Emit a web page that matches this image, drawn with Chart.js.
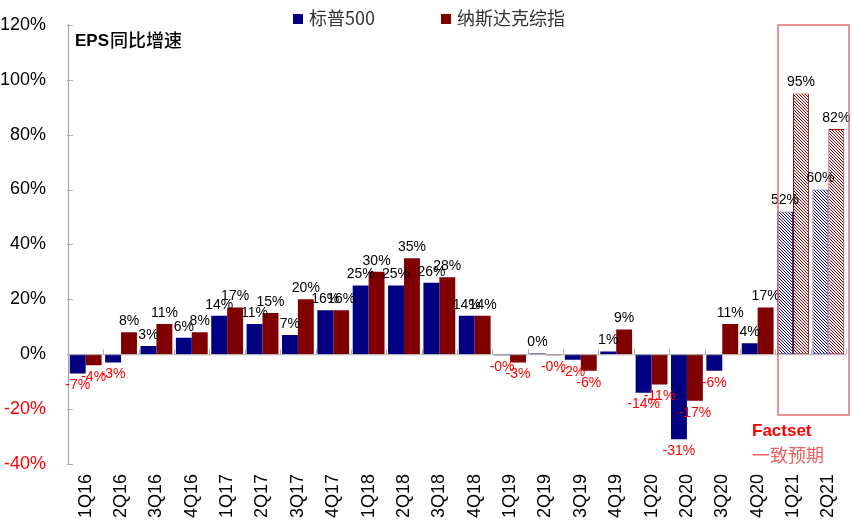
<!DOCTYPE html>
<html>
<head>
<meta charset="utf-8">
<script src="https://cdn.jsdelivr.net/npm/chart.js@4"></script>
<style>
  html, body { margin: 0; padding: 0; background: #fff; }
  #wrap { width: 852px; height: 524px; position: relative; }
</style>
</head>
<body>
<div id="wrap"><canvas id="epsChart" width="852" height="524"></canvas></div>
<script>
const quarters = ['1Q16', '2Q16', '3Q16', '4Q16', '1Q17', '2Q17', '3Q17', '4Q17', '1Q18', '2Q18', '3Q18',
    '4Q18', '1Q19', '2Q19', '3Q19', '4Q19', '1Q20', '2Q20', '3Q20', '4Q20', '1Q21', '2Q21'];
const sp500 = [-7, -3, 3, 6, 14, 11, 7, 16, 25, 25, 26, 14, -0.4, 0.3, -2, 1, -14, -31, -6, 4, 52, 60];
const nasdaq = [-4, 8, 11, 8, 17, 15, 20, 16, 30, 35, 28, 14, -3, -0.4, -6, 9, -11, -17, 11, 17, 95, 82];
const forecastFrom = 20; // 1Q21 以后为 Factset 一致预期
const yTicks = [-40, -20, 0, 20, 40, 60, 80, 100, 120];

const BLUE = '#000080';
const RED = '#800000';
const FONT = "'Liberation Sans', Arial, sans-serif";
const CJK = "'Noto Sans CJK SC', sans-serif";

// 斜线填充
function hatch(color) {
    const c = document.createElement('canvas');
    c.width = 3; c.height = 3;
    const g = c.getContext('2d');
    g.fillStyle = '#fff';
    g.fillRect(0, 0, 3, 3);
    g.fillStyle = color;
    for (let i = 0; i < 3; i++) g.fillRect(i, i, 1, 1);
    return g.createPattern(c, 'repeat');
}

function fills(color) {
    const p = hatch(color);
    return quarters.map((q, i) => i >= forecastFrom ? p : color);
}
function borders() {
    return quarters.map((q, i) => i >= forecastFrom ? 1 : 0);
}

// 数据标签、零线、刻度、图例、注释
const extras = {
    id: 'extras',
    afterDatasetsDraw(chart) {
        const g = chart.ctx;
        const area = chart.chartArea;
        const ys = chart.scales.y;
        const y0 = ys.getPixelForValue(0);
        const w = (area.right - area.left) / quarters.length;

        g.save();
        g.strokeStyle = '#b0b0b0';
        g.lineWidth = 1;
        g.beginPath();
        g.moveTo(area.left, y0 + 0.5);
        g.lineTo(area.right, y0 + 0.5);
        for (let i = 1; i <= quarters.length; i++) {
            const x = Math.round(area.left + i * w) + 0.5;
            g.moveTo(x, y0);
            g.lineTo(x, y0 - 5);
        }
        // y 轴刻度朝内
        yTicks.forEach(v => {
            const y = Math.round(ys.getPixelForValue(v)) + 0.5;
            g.moveTo(area.left - 1, y);
            g.lineTo(area.left + 5, y);
        });
        g.stroke();

        g.font = '14px ' + FONT;
        g.textAlign = 'center';
        chart.data.datasets.forEach((ds, di) => {
            const meta = chart.getDatasetMeta(di);
            meta.data.forEach((bar, i) => {
                const v = ds.data[i];
                const label = (v < 0 && Math.round(v) === 0) ? '-0%' : Math.round(v) + '%';
                if (v < 0) {
                    g.fillStyle = '#ff0000';
                    g.textBaseline = 'top';
                    g.fillText(label, bar.x, bar.y + 5);
                } else {
                    g.fillStyle = '#000';
                    g.textBaseline = 'bottom';
                    g.fillText(label, bar.x, bar.y - 4);
                }
            });
        });

        // 预测框
        g.strokeStyle = '#e07070';
        g.lineWidth = 1.5;
        g.strokeRect(778, 25, 71, 390);

        g.textAlign = 'left';
        g.textBaseline = 'middle';
        g.fillStyle = '#ff0000';
        g.font = 'bold 17px ' + FONT;
        g.fillText('Factset', 752, 431);
        g.fillStyle = '#f06060';
        g.font = '18px ' + CJK;
        g.fillText('一致预期', 752, 455);

        // 标题
        g.fillStyle = '#000';
        g.font = 'bold 17px ' + FONT;
        g.fillText('EPS', 75, 41);
        const ew = g.measureText('EPS').width;
        g.font = '500 18px ' + CJK;
        g.fillText('同比增速', 75 + ew + 1, 40);

        // 图例
        g.font = '18px ' + CJK;
        g.fillStyle = BLUE;
        g.fillRect(293, 14, 10, 10);
        g.fillStyle = '#333';
        g.fillText('标普500', 309, 18);
        g.fillStyle = RED;
        g.fillRect(441, 14, 10, 10);
        g.fillStyle = '#333';
        g.fillText('纳斯达克综指', 457, 18);
        g.restore();
    }
};

new Chart(document.getElementById('epsChart'), {
    type: 'bar',
    data: {
        labels: quarters,
        datasets: [{
            label: '标普500',
            data: sp500,
            backgroundColor: fills(BLUE),
            borderColor: '#3030a0',
            borderWidth: borders(),
            borderSkipped: false
        }, {
            label: '纳斯达克综指',
            data: nasdaq,
            backgroundColor: fills(RED),
            borderColor: '#a00000',
            borderWidth: borders(),
            borderSkipped: false
        }]
    },
    options: {
        responsive: false,
        animation: false,
        categoryPercentage: 0.9,
        barPercentage: 1.0,
        layout: { padding: { top: 22, right: 1, left: 0, bottom: 0 } },
        scales: {
            x: {
                grid: { display: false },
                border: { display: false },
                ticks: {
                    color: '#000',
                    font: { size: 18, family: FONT },
                    minRotation: 90,
                    maxRotation: 90,
                    padding: 2
                },
                afterFit(scale) { scale.height = 60; }
            },
            y: {
                min: -40,
                max: 120,
                afterBuildTicks(scale) { scale.ticks = yTicks.map(v => ({ value: v })); },
                grid: { display: false },
                border: { display: true, color: '#a0a0a0' },
                ticks: {
                    padding: 14,
                    font: { size: 18, family: FONT },
                    color: ctx => ctx.tick.value < 0 ? '#ff0000' : '#000',
                    callback: v => v + '%'
                },
                afterFit(scale) { scale.width = 68; }
            }
        },
        plugins: {
            legend: { display: false },
            tooltip: { enabled: false }
        }
    },
    plugins: [extras]
});
</script>
</body>
</html>
